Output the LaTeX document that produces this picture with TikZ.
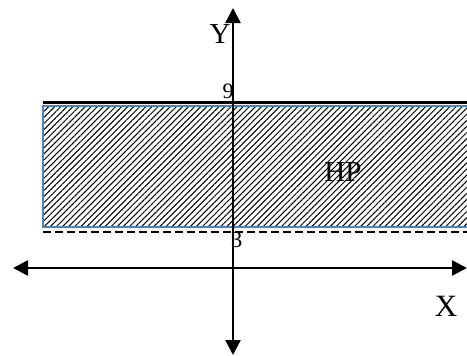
\documentclass[tikz,border=0pt]{standalone}
\usepackage{fontspec}
\setmainfont{Liberation Serif}
\usetikzlibrary{arrows.meta,patterns.meta}
\definecolor{bandblue}{RGB}{79,129,189}
\tikzset{
  axis/.style={line width=2.3pt,black,{Triangle[length=15pt,width=15pt]}-{Triangle[length=15pt,width=15pt]}},
  lbl/.style={inner sep=0pt,text=black},
  bound/.style={line width=2.4pt,black},
  dashbound/.style={line width=1.8pt,black,dash pattern=on 8pt off 4pt},
  band/.style={draw=bandblue,line width=2pt,pattern={Lines[angle=45,distance=4.3pt,line width=1pt]},pattern color=black}
}
\begin{document}
\begin{tikzpicture}[x=1pt,y=-1pt]
\useasboundingbox (0,0) rectangle (467,356);
% band
\coordinate (bandNW) at (43,105.5);
\coordinate (bandSE) at (470,227);
\path[band] (bandNW) rectangle (bandSE);
% boundary lines
\coordinate (topL) at (43,102.5);
\coordinate (topR) at (470,102.5);
\coordinate (dashL) at (43,232);
\coordinate (dashR) at (470,232);
\draw[bound] (topL) -- (topR);
\draw[dashbound] (dashL) -- (dashR);
% axes
\coordinate (xL) at (13,268);
\coordinate (xR) at (467,268);
\coordinate (yT) at (233,8);
\coordinate (yB) at (233,355);
\draw[axis] (xL) -- (xR);
\draw[axis] (yB) -- (yT);
% labels
\node[lbl,font=\fontsize{29}{29}\selectfont] (ylab) at (220,34) {Y};
\node[lbl,font=\fontsize{31}{31}\selectfont] (xlab) at (446,306) {X};
\node[lbl,font=\fontsize{29}{29}\selectfont] (hp) at (343,172) {HP};
\node[lbl,font=\fontsize{22}{22}\selectfont] (nine) at (228,91) {9};
\node[lbl,font=\fontsize{23}{23}\selectfont] (three) at (236.5,239.5) {3};
\end{tikzpicture}
\end{document}
